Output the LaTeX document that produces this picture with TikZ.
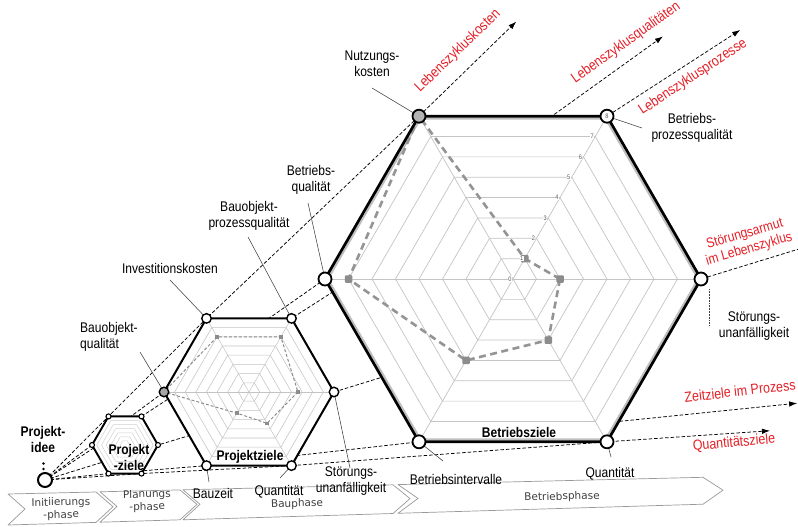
\documentclass[tikz,border=0pt]{standalone}
\usepackage{fontspec}
\setmainfont{Liberation Sans}[FakeStretch=0.86]
\newfontfamily\phasefont{DejaVu Sans}
\usetikzlibrary{calc,arrows.meta}
\definecolor{lblred}{RGB}{230,30,38}
\definecolor{gridgray}{RGB}{196,196,196}
\newcommand\hexring[3]{\draw[#1] ($(#2)+(0:#3)$) -- ($(#2)+(60:#3)$) -- ($(#2)+(120:#3)$) -- ($(#2)+(180:#3)$) -- ($(#2)+(240:#3)$) -- ($(#2)+(300:#3)$) -- cycle;}
\begin{document}
\begin{tikzpicture}[x=1pt,y=-1pt,
  lbl/.style={font=\fontsize{14}{16}\selectfont, align=center, inner sep=0pt},
  boldlbl/.style={font=\fontsize{14}{16}\selectfont\bfseries, align=center, inner sep=0pt},
  redlbl/.style={font=\fontsize{14.5}{16}\selectfont, text=lblred, align=center, inner sep=0pt},
  ray/.style={line width=0.75pt, dash pattern=on 3.5pt off 2pt},
  rayarrow/.style={ray, -{Latex[length=8pt,width=5.5pt]}},
  leader/.style={line width=0.55pt, black!75},
  gridline/.style={line width=0.7pt, gridgray},
  phase/.style={draw=black!40, line width=0.7pt, fill=white, line join=round},
  phasetext/.style={font=\phasefont\fontsize{10.5}{12.5}\selectfont, text=black!75, align=center, inner sep=0pt, rotate=1.4},
  vbig/.style={circle, draw, line width=1.8pt, fill=white, minimum size=13pt, inner sep=0pt},
  vmed/.style={circle, draw, line width=1.4pt, fill=white, minimum size=9.5pt, inner sep=0pt},
  vsmall/.style={circle, draw, line width=1.1pt, fill=white, minimum size=5pt, inner sep=0pt},
  scalelbl/.style={font=\fontsize{6.5}{7}\selectfont, text=black!65, inner sep=0.4pt, fill=white},
  lmark/.style={rectangle, fill=black!45, minimum size=7.5pt, inner sep=0pt, rounded corners=1pt},
  mmark/.style={rectangle, fill=black!45, minimum size=3.5pt, inner sep=0pt},
  dlarge/.style={line width=2.6pt, black!42, dash pattern=on 7pt off 4.5pt},
  dmed/.style={line width=1pt, black!45, dash pattern=on 3pt off 2pt},
]
\useasboundingbox (0,0) rectangle (798,527);

% ---------- phase chevrons ----------
\draw[phase] (8,494) -- (96,492) -- (113,506.7) -- (96,522.4) -- (8,525) -- (25,509) -- cycle;
\draw[phase] (100,491.8) -- (180,489.9) -- (197,504.4) -- (180,519.8) -- (100,522.2) -- (117,506.5) -- cycle;
\draw[phase] (183,489.8) -- (393,484.8) -- (410,498.6) -- (393,513.5) -- (183,519.8) -- (200,504.3) -- cycle;
\draw[phase] (398,484.6) -- (703,477.3) -- (723,490.2) -- (703,504.2) -- (398,513.3) -- (418,498.4) -- cycle;
\node[phasetext] (ph1) at (61,509) {Initiierungs\\-phase};
\node[phasetext] (ph2) at (147,501) {Planungs\\-phase};
\node[phasetext] (ph3) at (297,504) {Bauphase};
\node[phasetext] (ph4) at (562,497) {Betriebsphase};

% ---------- geometry ----------
\coordinate (P) at (45,480);
\coordinate (SC) at (125,445);
\coordinate (MC) at (249,392);
\coordinate (LC) at (513,279);
\foreach \n/\a in {R/0,BR/60,BL/120,L/180,TL/240,TR/300} {
  \coordinate (s\n) at ($(SC)+(\a:33)$);
  \coordinate (m\n) at ($(MC)+(\a:85)$);
  \coordinate (L\n) at ($(LC)+(\a:188)$);
}

% ---------- rays from the project idea ----------
\draw[rayarrow] (P) -- (sTL) -- (mTL) -- (LTL) -- ($(P)!1.26!(LTL)$);
\draw[rayarrow] (P) -- (sTR) -- (mTR) -- (LTR) -- ($(P)!1.237!(LTR)$);
\draw[rayarrow] (P) -- (sL) -- (mL) -- (LL) -- ($(P)!2.207!(LL)$);
\draw[ray] (P) -- (sR) -- (mR) -- (LR) -- ($(P)!1.148!(LR)$);
\draw[rayarrow] (P) -- (sBL) -- (mBL) -- (LBL) -- ($(P)!2.011!(LBL)$);
\draw[rayarrow] (P) -- (sBR) -- (mBR) -- (LBR) -- ($(P)!1.29!(LBR)$);

% ---------- leader lines ----------
\coordinate (eNutz) at (372,88);
\coordinate (eBPQ) at (642,128);
\coordinate (eBQ) at (308,203);
\coordinate (eBOPQ) at (248,237);
\coordinate (eInv) at (170,280);
\coordinate (eBOQ) at (140,352);
\coordinate (eMSU) at (350,468);
\coordinate (eMQ) at (280,478);
\coordinate (eBZ) at (209,482);
\coordinate (eBI) at (443,461);
\coordinate (eLQ) at (611,457);
\coordinate (eLSUa) at (709,289);
\coordinate (eLSUb) at (709,326);
\draw[leader] (eNutz) -- (LTL);
\draw[leader] (LTR) -- (eBPQ);
\draw[leader] (eBQ) -- (LL);
\draw[leader] (eBOPQ) -- (mTR);
\draw[leader] (eInv) -- (mTL);
\draw[leader] (eBOQ) -- (mL);
\draw[leader] (mR) -- (eMSU);
\draw[leader] (eMQ) -- (mBR);
\draw[leader] (mBL) -- (eBZ);
\draw[leader] (LBL) -- (eBI);
\draw[leader] (LBR) -- (eLQ);
\draw[leader, densely dotted] (eLSUa) -- (eLSUb);

% ---------- small hexagon ----------
\hexring{fill=white, draw=none}{SC}{33}
\foreach \k in {1,...,6} {\hexring{line width=0.5pt, black!18}{SC}{\k*4.7}}
\hexring{line width=1.9pt, line join=round}{SC}{33}

% ---------- medium hexagon ----------
\hexring{fill=white, draw=none}{MC}{85}
\foreach \a in {0,60,...,300} {\draw[gridline, line width=0.5pt] (MC) -- ($(MC)+(\a:85)$);}
\foreach \k in {1,...,8} {\hexring{gridline, line width=0.55pt}{MC}{\k*10.625}}
\draw[dmed] ($(MC)+(0:48.9)$) -- ($(MC)+(60:36.1)$) -- ($(MC)+(120:24.4)$) -- ($(MC)+(180:85)$) -- ($(MC)+(240:63.75)$) -- ($(MC)+(300:63.75)$) -- cycle;
\foreach \a/\r in {0/48.9,60/36.1,120/24.4,240/63.75,300/63.75} {\node[mmark] (mm\a) at ($(MC)+(\a:\r)$) {};}
\hexring{line width=2pt, line join=round}{MC}{85}

% ---------- large hexagon ----------
\hexring{fill=white, draw=none}{LC}{188}
\foreach \a in {0,60,...,300} {\draw[gridline] (LC) -- ($(LC)+(\a:188)$);}
\foreach \k in {1,...,8} {\hexring{gridline}{LC}{\k*23.5}}
\hexring{line width=2pt, black!25, line join=round}{LC}{185.2}
\draw[dlarge] ($(LC)+(0:47)$) -- ($(LC)+(60:70.5)$) -- ($(LC)+(120:94)$) -- ($(LC)+(180:164.5)$) -- ($(LC)+(240:188)$) -- ($(LC)+(300:23.5)$) -- cycle;
\foreach \a/\r in {0/47,60/70.5,120/94,180/164.5,300/23.5} {\node[lmark] (lm\a) at ($(LC)+(\a:\r)$) {};}
\foreach \k in {0,...,7} {\node[scalelbl] (sc\k) at ($(LC)+(300:\k*23.5)+(-3,0)$) {\k};}
\hexring{line width=2.7pt, line join=round}{LC}{188}

% ---------- vertex circles ----------
\foreach \n in {TL,TR,R,BR,BL,L} {\node[vsmall] (vs\n) at (s\n) {};}
\foreach \n in {TL,TR,R,BR,BL} {\node[vmed] (vm\n) at (m\n) {};}
\node[vmed, fill=black!35] (vmL) at (mL) {};
\foreach \n in {TR,R,BR,BL,L} {\node[vbig] (vL\n) at (L\n) {};}
\node[vbig, fill=black!30] (vLTL) at (LTL) {};
\node[scalelbl, fill=none] (sc8) at (LTR) {8};
\node[circle, draw, line width=2pt, fill=white, minimum size=14pt, inner sep=0pt] (pi) at (P) {};
\fill (43.5,463.5) circle (1.3) (43.5,469) circle (1.3);

% ---------- black labels ----------
\node[lbl] (tNutz) at (372,64) {Nutzungs-\\kosten};
\node[lbl] (tBPQ) at (692,128) {Betriebs-\\prozessqualität};
\node[lbl] (tBQ) at (311,180) {Betriebs-\\qualität};
\node[lbl] (tBOPQ) at (249,216) {Bauobjekt-\\prozessqualität};
\node[lbl] (tInv) at (170,268) {Investitionskosten};
\node[lbl, align=left, anchor=west] (tBOQ) at (80,337) {Bauobjekt-\\qualität};
\node[lbl] (tBauzeit) at (213,493) {Bauzeit};
\node[lbl] (tMQ) at (279,492) {Quantität};
\node[lbl] (tMSU) at (351,481) {Störungs-\\unanfälligkeit};
\node[lbl] (tBI) at (456,479) {Betriebsintervalle};
\node[lbl] (tLQ) at (610,474) {Quantität};
\node[lbl] (tLSU) at (754,326) {Störungs-\\unanfälligkeit};
\node[boldlbl] (tBZ) at (519,432) {Betriebsziele};
\node[boldlbl] (tPZ) at (250,457) {Projektziele};
\node[boldlbl] (tPZs) at (129,457) {Projekt\\-ziele};
\node[boldlbl] (tPI) at (43,439) {Projekt-\\idee};

% ---------- red labels ----------
\node[redlbl, rotate=44] (rLK) at (458,51) {Lebenszykluskosten};
\node[redlbl, rotate=35.5] (rLQ) at (626,43) {Lebenszyklusqualitäten};
\node[redlbl, rotate=33.5] (rLP) at (693,77) {Lebenszyklusprozesse};
\node[redlbl, rotate=16, font=\fontsize{14}{15.5}\selectfont] (rSA) at (747,242) {Störungsarmut\\im Lebenszyklus};
\node[redlbl, rotate=6.5] (rZZ) at (740,391) {Zeitziele im Prozess};
\node[redlbl, rotate=5] (rQZ) at (734,443) {Quantitätsziele};
\end{tikzpicture}
\end{document}
